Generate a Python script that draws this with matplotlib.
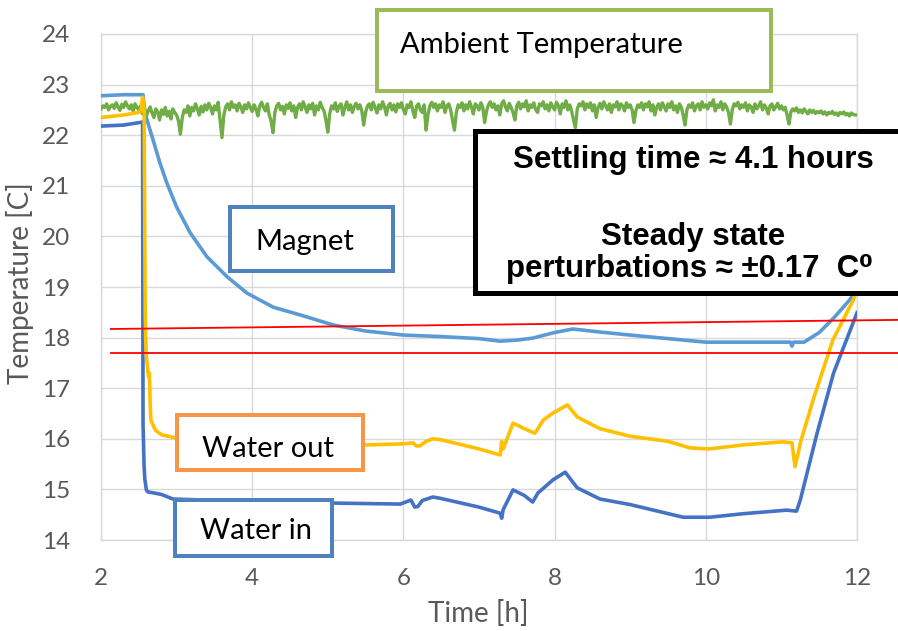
import matplotlib
matplotlib.use("Agg")
import matplotlib.pyplot as plt
from matplotlib.patches import Rectangle
import numpy as np

# ---- measured series -------------------------------------------------------
magnet_t = [2.0, 2.3, 2.556, 2.58, 2.69, 2.78, 2.87, 3.0, 3.18, 3.4, 3.67,
            3.93, 4.28, 4.63, 5.07, 5.5, 6.0, 6.5, 7.0, 7.28, 7.5, 7.71, 8.0,
            8.24, 8.6, 9.0, 9.5, 10.0, 10.5, 11.0, 11.12, 11.14, 11.16, 11.3,
            11.5, 11.7, 11.9, 12.0]
magnet_v = [22.78, 22.80, 22.80, 22.44, 21.90, 21.45, 21.06, 20.58, 20.07,
            19.60, 19.20, 18.88, 18.60, 18.45, 18.25, 18.13, 18.05,
            18.02, 17.98, 17.93, 17.95, 17.99, 18.10, 18.17, 18.11, 18.05,
            17.98, 17.91, 17.91, 17.91, 17.91, 17.83, 17.91, 17.91, 18.10,
            18.40, 18.74, 18.95]

water_out_t = [2.0, 2.3, 2.5, 2.53, 2.55, 2.57, 2.585, 2.59, 2.6, 2.61, 2.62,
               2.63, 2.64, 2.645, 2.65, 2.66, 2.68, 2.72, 2.8, 2.95, 3.2, 4.0,
               5.0, 5.52, 6.0, 6.13, 6.17, 6.22, 6.3, 6.39, 6.5, 7.0, 7.28,
               7.3, 7.32, 7.45, 7.6, 7.74, 7.85, 7.98, 8.17, 8.3, 8.6, 9.0,
               9.5, 9.79, 10.05, 10.5, 11.02, 11.14, 11.18, 11.22, 11.25,
               11.42, 11.68, 11.95, 12.0]
water_out_v = [22.35, 22.40, 22.45, 22.50, 22.75, 22.55, 18.49, 18.00, 17.62,
               17.50, 17.30, 17.22, 17.30, 17.02, 16.70, 16.37, 16.30, 16.17,
               16.08, 16.03, 15.98, 15.92, 15.88, 15.88, 15.90, 15.92, 15.86,
               15.86, 15.95, 16.00, 15.98, 15.80, 15.68, 15.95, 15.80, 16.31,
               16.20, 16.11, 16.37, 16.51, 16.67, 16.43, 16.20, 16.05, 15.95,
               15.82, 15.80, 15.88, 15.94, 15.92, 15.45, 15.70, 15.92, 16.77,
               17.95, 18.74, 18.95]

water_in_t = [2.0, 2.3, 2.55, 2.556, 2.57, 2.58, 2.6, 2.62, 2.7, 2.8, 2.95,
              4.0, 5.07, 5.96, 6.1, 6.15, 6.19, 6.25, 6.39, 6.5, 7.0, 7.28,
              7.3, 7.32, 7.45, 7.6, 7.71, 7.78, 7.98, 8.14, 8.3, 8.6, 9.0,
              9.7, 10.05, 10.5, 11.07, 11.2, 11.25, 11.47, 11.69, 12.0]
water_in_v = [22.18, 22.20, 22.26, 16.30, 15.45, 15.20, 14.99, 14.95, 14.93,
              14.90, 14.81, 14.76, 14.73, 14.71, 14.79, 14.65, 14.66, 14.78,
              14.85, 14.82, 14.65, 14.53, 14.43, 14.60, 14.99, 14.88, 14.75,
              14.93, 15.19, 15.34, 15.03, 14.81, 14.70, 14.45, 14.45, 14.52,
              14.59, 14.57, 14.79, 16.10, 17.30, 18.49]

# ambient sensor, sampled every 0.025 h from 2.000 h to 12.000 h
ambient_v = [
    22.52, 22.58, 22.55, 22.62, 22.50, 22.57, 22.60, 22.53, 22.64, 22.56,
    22.49, 22.61, 22.55, 22.66, 22.58, 22.52, 22.60, 22.47, 22.62, 22.55,
    22.50, 22.58, 22.42, 22.55, 22.38, 22.48, 22.56, 22.44, 22.35, 22.52,
    22.46, 22.30, 22.50, 22.41, 22.55, 22.38, 22.47, 22.32, 22.52, 22.45,
    22.40, 22.28, 22.02, 22.35, 22.50, 22.45, 22.58, 22.38, 22.55, 22.48,
    22.62, 22.52, 22.40, 22.57, 22.46, 22.60, 22.50, 22.63, 22.55, 22.42,
    22.58, 22.50, 22.65, 22.30, 21.95, 22.40, 22.56, 22.62, 22.50, 22.66,
    22.55, 22.60, 22.48, 22.63, 22.56, 22.45, 22.60, 22.52, 22.64, 22.55,
    22.47, 22.60, 22.52, 22.38, 22.58, 22.65, 22.55, 22.48, 22.62, 22.40,
    22.28, 22.05, 22.45, 22.58, 22.63, 22.50, 22.57, 22.42, 22.60, 22.53,
    22.64, 22.48, 22.58, 22.35, 22.55, 22.62, 22.50, 22.66, 22.56, 22.45,
    22.60, 22.52, 22.63, 22.40, 22.58, 22.50, 22.65, 22.55, 22.48, 22.30,
    22.06, 22.42, 22.58, 22.52, 22.64, 22.47, 22.58, 22.62, 22.40, 22.55,
    22.66, 22.50, 22.60, 22.45, 22.57, 22.63, 22.52, 22.60, 22.48, 22.20,
    22.45, 22.58, 22.62, 22.50, 22.65, 22.55, 22.44, 22.60, 22.52, 22.66,
    22.56, 22.40, 22.58, 22.63, 22.50, 22.60, 22.46, 22.62, 22.55, 22.64,
    22.50, 22.42, 22.60, 22.55, 22.66, 22.48, 22.35, 22.58, 22.62, 22.50,
    22.45, 22.60, 22.10, 22.40, 22.58, 22.65, 22.55, 22.62, 22.48, 22.60,
    22.55, 22.66, 22.45, 22.58, 22.62, 22.50, 22.30, 22.10, 22.45, 22.60,
    22.55, 22.64, 22.48, 22.60, 22.52, 22.66, 22.56, 22.42, 22.62, 22.58,
    22.50, 22.64, 22.55, 22.25, 22.48, 22.60, 22.66, 22.55, 22.62, 22.50,
    22.58, 22.40, 22.62, 22.68, 22.56, 22.48, 22.63, 22.55, 22.45, 22.30,
    22.58, 22.65, 22.52, 22.62, 22.56, 22.68, 22.48, 22.60, 22.55, 22.64,
    22.50, 22.45, 22.62, 22.58, 22.66, 22.52, 22.60, 22.48, 22.64, 22.56,
    22.50, 22.65, 22.58, 22.42, 22.62, 22.55, 22.68, 22.50, 22.60, 22.48,
    22.30, 22.15, 22.52, 22.62, 22.58, 22.66, 22.50, 22.62, 22.55, 22.64,
    22.48, 22.60, 22.35, 22.55, 22.63, 22.52, 22.66, 22.58, 22.50, 22.62,
    22.45, 22.60, 22.56, 22.66, 22.50, 22.62, 22.58, 22.48, 22.64, 22.55,
    22.60, 22.50, 22.25, 22.48, 22.60, 22.55, 22.64, 22.50, 22.62, 22.56,
    22.66, 22.48, 22.60, 22.40, 22.55, 22.62, 22.50, 22.64, 22.56, 22.48,
    22.62, 22.55, 22.66, 22.50, 22.58, 22.45, 22.62, 22.56, 22.40, 22.20,
    22.50, 22.60, 22.55, 22.64, 22.48, 22.58, 22.62, 22.50, 22.66, 22.55,
    22.60, 22.52, 22.64, 22.58, 22.70, 22.48, 22.60, 22.55, 22.66, 22.50,
    22.62, 22.56, 22.45, 22.22, 22.50, 22.62, 22.58, 22.65, 22.52, 22.60,
    22.55, 22.64, 22.48, 22.60, 22.56, 22.45, 22.62, 22.52, 22.58, 22.66,
    22.50, 22.60, 22.54, 22.42, 22.58, 22.62, 22.50, 22.56, 22.63, 22.52,
    22.58, 22.50, 22.55, 22.40, 22.22, 22.46, 22.52, 22.48, 22.54, 22.45,
    22.50, 22.44, 22.52, 22.47, 22.42, 22.50, 22.45, 22.49, 22.43, 22.47,
    22.44, 22.48, 22.42, 22.46, 22.40, 22.45, 22.43, 22.47, 22.41, 22.44,
    22.39, 22.45, 22.42, 22.46, 22.40, 22.43, 22.38, 22.44, 22.41, 22.40,
    22.40,
]
ambient_t = np.linspace(2.0, 12.0, len(ambient_v))

# steady-state band markers: (start time, start temp) -> (end time, end temp)
band_upper = ([2.13, 12.55], [18.17, 18.35])
band_lower = ([2.13, 12.55], [17.70, 17.70])

x_ticks = [2, 4, 6, 8, 10, 12]
y_ticks = list(range(14, 25))

# ---- figure ------------------------------------------------------------------
W, H = 898, 631
fig = plt.figure(figsize=(W / 100, H / 100), dpi=100)
ax = fig.add_axes([101 / W, 1 - 540 / H, (857 - 101) / W, (540 - 34) / H])

c_magnet = "#5B9BD5"
c_out = "#FFC000"
c_in = "#4472C4"
c_amb = "#70AD47"
lw = 2.6

ax.plot(magnet_t, magnet_v, color=c_magnet, lw=lw, zorder=3)
ax.plot(ambient_t, ambient_v, color=c_amb, lw=2.4, zorder=3)
ax.plot(water_in_t, water_in_v, color=c_in, lw=lw, zorder=4)
ax.plot(water_out_t, water_out_v, color=c_out, lw=lw, zorder=4)

ax.plot(*band_upper, color="#FF0000", lw=1.3, clip_on=False, zorder=5)
ax.plot(*band_lower, color="#FF0000", lw=1.3, clip_on=False, zorder=5)

ax.set_xlim(2, 12)
ax.set_ylim(14, 24)
ax.set_xticks(x_ticks)
ax.set_yticks(y_ticks)
ax.grid(True, color="#D9D9D9", lw=1.0, zorder=0)
ax.set_axisbelow(True)
for s in ax.spines.values():
    s.set_color("#D9D9D9")
    s.set_linewidth(1.0)
ax.tick_params(length=0, labelsize=17.5, labelcolor="#595959", pad=22)
for lab in ax.get_xticklabels() + ax.get_yticklabels():
    lab.set_family("Lato")
ax.tick_params(axis="x", pad=20)

# ---- overlay in pixel coordinates for the annotation boxes -------------------
ov = fig.add_axes([0, 0, 1, 1], zorder=10)
ov.set_xlim(0, W)
ov.set_ylim(H, 0)
ov.axis("off")
ov.patch.set_alpha(0)

fig.text(20 / W, 1 - 283 / H, "Temperature [C]", rotation=90, ha="center",
         va="center", fontsize=20, color="#595959", family="Lato")
ov.text(478, 622, "Time [h]", ha="center", va="baseline",
        fontsize=20, color="#595959", family="Lato")

def box(x0, y0, x1, y1, color, lw_px):
    ov.add_patch(Rectangle((x0, y0), x1 - x0, y1 - y0, facecolor="white",
                           edgecolor=color, lw=lw_px * 0.72, clip_on=False))

box(377, 10, 771, 91, "#9BBB59", 4)
box(230, 207, 393, 271, "#4F81BD", 4)
box(177, 415, 363, 470, "#F79646", 4)
box(175, 500, 332, 556, "#4F81BD", 4)
box(474.5, 130.5, 935, 293, "black", 5)

lab_kw = dict(fontsize=21, color="black", family="Lato", va="baseline",
              ha="left")
ov.text(400, 53, "Ambient Temperature", **lab_kw)
ov.text(255, 250, "Magnet", **lab_kw)
ov.text(202, 457, "Water out", **lab_kw)
ov.text(200, 539, "Water in", **lab_kw)

bold_kw = dict(fontsize=22.5, color="black", weight="bold", ha="center",
               va="baseline", family=["Liberation Sans", "DejaVu Sans"])
ov.text(693, 168, "Settling time ≈ 4.1 hours", **bold_kw)
ov.text(693, 245, "Steady state", **bold_kw)
ov.text(689, 277, "perturbations ≈ ±0.17  C⁰", **bold_kw)

fig.savefig("out.png", dpi=100)
